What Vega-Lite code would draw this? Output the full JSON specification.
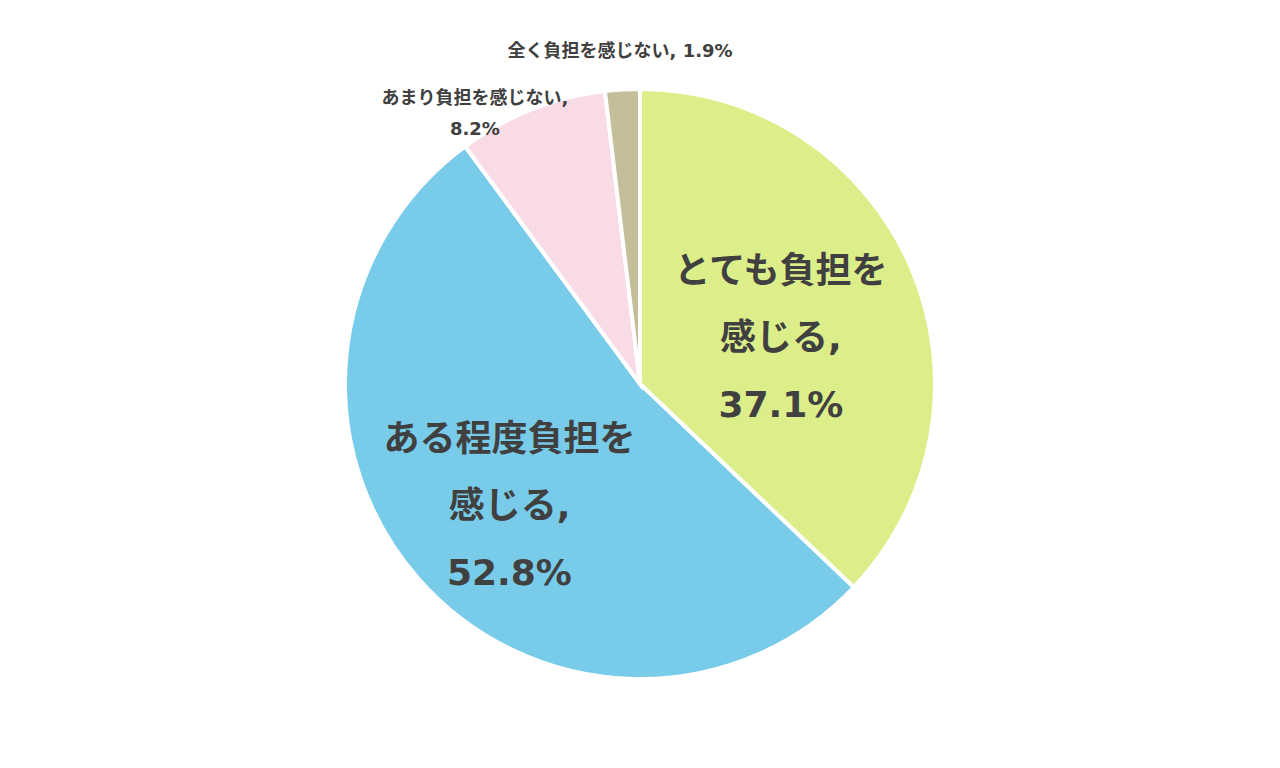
{
  "$schema": "https://vega.github.io/schema/vega-lite/v6.json",
  "width": 1280,
  "height": 768,
  "autosize": {"type": "fit", "contains": "padding"},
  "padding": 0,
  "background": "white",
  "view": {"stroke": null},
  "data": {
    "values": [
      {"cat": "とても負担を感じる", "value": 37.1, "order": 1, "label": "とても負担を\n感じる,\n37.1%"},
      {"cat": "ある程度負担を感じる", "value": 52.8, "order": 2, "label": "ある程度負担を\n感じる,\n52.8%"},
      {"cat": "あまり負担を感じない", "value": 8.2, "order": 3, "label": "あまり負担を感じない,\n8.2%"},
      {"cat": "全く負担を感じない", "value": 1.9, "order": 4, "label": "全く負担を感じない, 1.9%"}
    ]
  },
  "encoding": {
    "theta": {"field": "value", "type": "quantitative", "stack": true},
    "order": {"field": "order", "type": "quantitative"}
  },
  "layer": [
    {
      "mark": {"type": "arc", "outerRadius": 295, "stroke": "white", "strokeWidth": 4},
      "encoding": {
        "color": {
          "field": "cat",
          "type": "nominal",
          "scale": {
            "domain": ["とても負担を感じる", "ある程度負担を感じる", "あまり負担を感じない", "全く負担を感じない"],
            "range": ["#DCEE8A", "#78CBE9", "#F9DAE7", "#C4BE9A"]
          },
          "legend": null
        }
      }
    },
    {
      "mark": {"type": "text", "radius": 150, "dx": 3, "dy": -53, "font": "DejaVu Sans, Noto Sans CJK JP", "fontWeight": "bold", "fontSize": 36, "lineHeight": 67, "lineBreak": "\n", "color": "#404040", "align": "center", "baseline": "middle"},
      "encoding": {
        "text": {"condition": {"test": "datum.order === 1", "field": "label"}, "value": ""}
      }
    },
    {
      "mark": {"type": "text", "radius": 178, "dx": 3, "dy": -62, "font": "DejaVu Sans, Noto Sans CJK JP", "fontWeight": "bold", "fontSize": 36, "lineHeight": 67, "lineBreak": "\n", "color": "#404040", "align": "center", "baseline": "middle"},
      "encoding": {
        "text": {"condition": {"test": "datum.order === 2", "field": "label"}, "value": ""}
      }
    },
    {
      "mark": {"type": "text", "radius": 318, "dx": -48, "dy": 11, "font": "DejaVu Sans, Noto Sans CJK JP", "fontWeight": "bold", "fontSize": 18, "lineHeight": 31, "lineBreak": "\n", "color": "#404040", "align": "center", "baseline": "middle"},
      "encoding": {
        "text": {"condition": {"test": "datum.order === 3", "field": "label"}, "value": ""}
      }
    },
    {
      "mark": {"type": "text", "radius": 333, "font": "DejaVu Sans, Noto Sans CJK JP", "fontWeight": "bold", "fontSize": 18, "lineBreak": "\n", "color": "#404040", "align": "center", "baseline": "middle"},
      "encoding": {
        "text": {"condition": {"test": "datum.order === 4", "field": "label"}, "value": ""}
      }
    }
  ]
}
